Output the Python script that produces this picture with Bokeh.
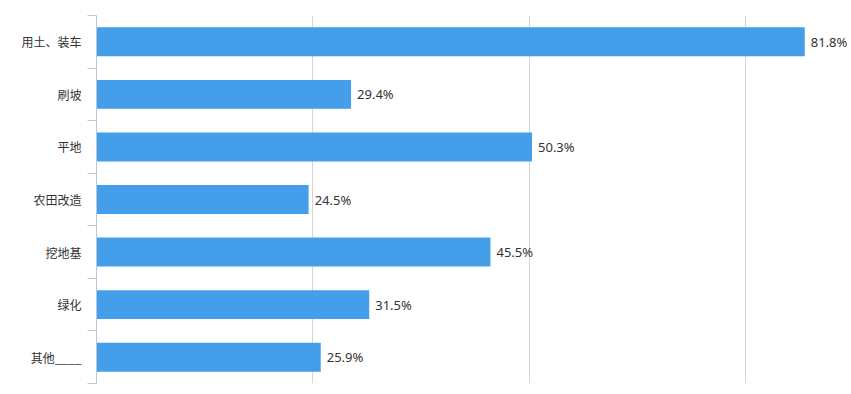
from bokeh.plotting import figure
from bokeh.models import ColumnDataSource, FixedTicker, Range1d
from bokeh.core.properties import value
from bokeh.embed import file_html
from bokeh.resources import INLINE

categories = ["用土、装车", "刷坡", "平地", "农田改造", "挖地基", "绿化", "其他____"]
values = [81.8, 29.4, 50.3, 24.5, 45.5, 31.5, 25.9]
grid_ticks = [25, 50, 75]

n = len(categories)
centers = [n - i - 0.5 for i in range(n)]
labels = [f"{v}%" for v in values]

src = ColumnDataSource(dict(y=centers, v=values, lab=labels))

p = figure(width=851, height=386, output_backend="svg", toolbar_location=None,
           x_range=Range1d(0, 87.2), y_range=Range1d(0, n),
           min_border_left=96, min_border_right=0, min_border_top=15, min_border_bottom=3)
p.outline_line_color = None
p.background_fill_color = "white"

p.hbar(y="y", right="v", left=0, height=0.55, source=src, color="#459eea", line_color=None)
p.text(x="v", y="y", text="lab", source=src, x_offset=6, text_baseline="middle",
       text_align="left", text_font=value("Noto Sans"), text_font_size="13px", text_color="#333333")

p.xaxis.visible = False
p.xgrid.ticker = FixedTicker(ticks=grid_ticks)
p.xgrid.grid_line_color = "#d6d6d6"
p.ygrid.visible = False

yax = p.yaxis[0]
yax.ticker = FixedTicker(ticks=centers, minor_ticks=list(range(n + 1)))
yax.major_label_overrides = {c: categories[i] for i, c in enumerate(centers)}
yax.major_tick_out = 0
yax.major_tick_in = 0
yax.minor_tick_out = 9
yax.minor_tick_in = 0
yax.minor_tick_line_color = "#b6c8de"
yax.axis_line_color = "#b6c8de"
yax.major_label_standoff = 6
yax.major_label_text_font = "Noto Sans CJK SC"
yax.major_label_text_font_size = "12px"
yax.major_label_text_color = "#333333"

open("out.html", "w").write(file_html(p, INLINE))
